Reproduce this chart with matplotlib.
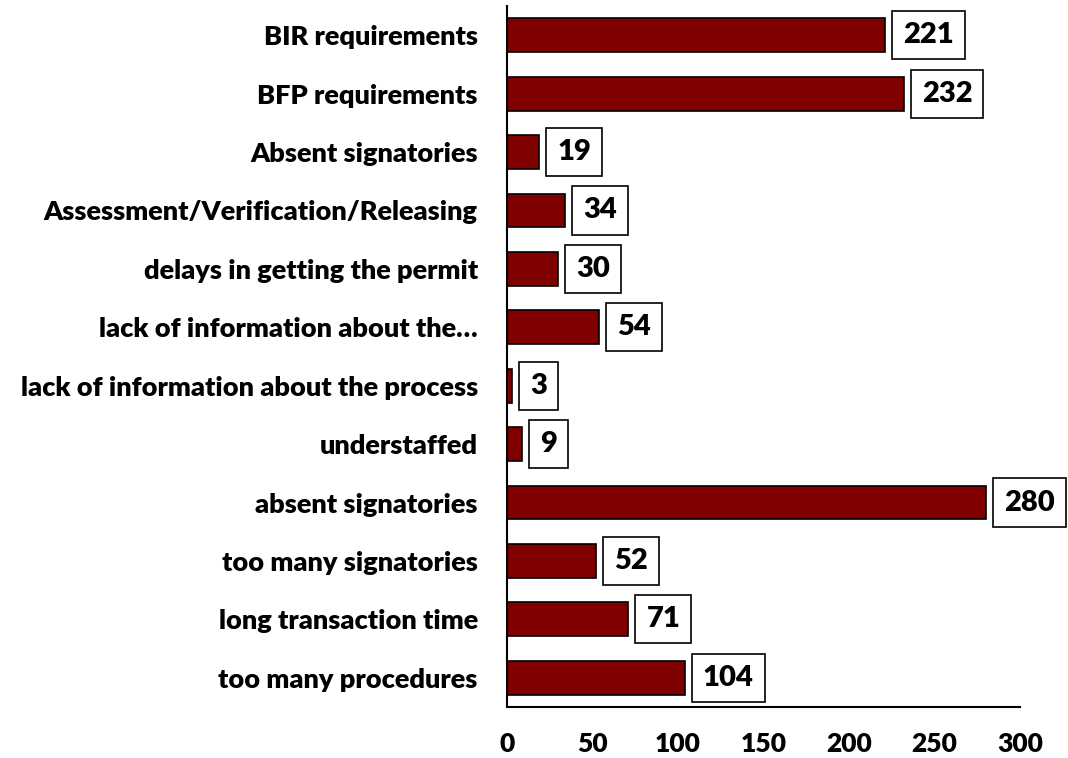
import matplotlib.pyplot as plt

# Reasons listed top to bottom, with counts
categories = [
    "BIR requirements",
    "BFP requirements",
    "Absent signatories",
    "Assessment/Verification/Releasing",
    "delays in getting the permit",
    "lack of information about the\u2026",
    "lack of information about the process",
    "understaffed",
    "absent signatories",
    "too many signatories",
    "long transaction time",
    "too many procedures",
]
counts = [221, 232, 19, 34, 30, 54, 3, 9, 280, 52, 71, 104]
xticks = [0, 50, 100, 150, 200, 250, 300]

plt.rcParams['font.family'] = ['Lato', 'DejaVu Sans']

fig = plt.figure(figsize=(10.68, 7.58), dpi=100)
ax = fig.add_axes([0.4747, 0.0673, 0.4803, 0.9247])

# first category at the top
ypos = list(range(len(categories)))[::-1]
ax.barh(ypos, counts, height=0.58, color='#800000', edgecolor='black', linewidth=1.2)

for y, v in zip(ypos, counts):
    ax.annotate(str(v), xy=(v, y), xytext=(13, 0), textcoords='offset points',
                ha='left', va='center', fontsize=21, fontweight='heavy',
                bbox=dict(boxstyle='square,pad=0.38', facecolor='white',
                          edgecolor='black', linewidth=1.2))

ax.set_xlim(0, 300)
ax.set_ylim(-0.5, len(categories) - 0.5)
ax.set_yticks(ypos)
ax.set_yticklabels(categories, fontsize=19.5, fontweight='heavy')
ax.set_xticks(xticks)
ax.set_xticklabels([str(t) for t in xticks], fontsize=19, fontweight='heavy')
ax.tick_params(axis='both', length=0)
ax.tick_params(axis='y', pad=21)
ax.tick_params(axis='x', pad=18)

for side in ['top', 'right']:
    ax.spines[side].set_visible(False)
for side in ['left', 'bottom']:
    ax.spines[side].set_linewidth(1.5)

fig.savefig('out.png', dpi=100)
